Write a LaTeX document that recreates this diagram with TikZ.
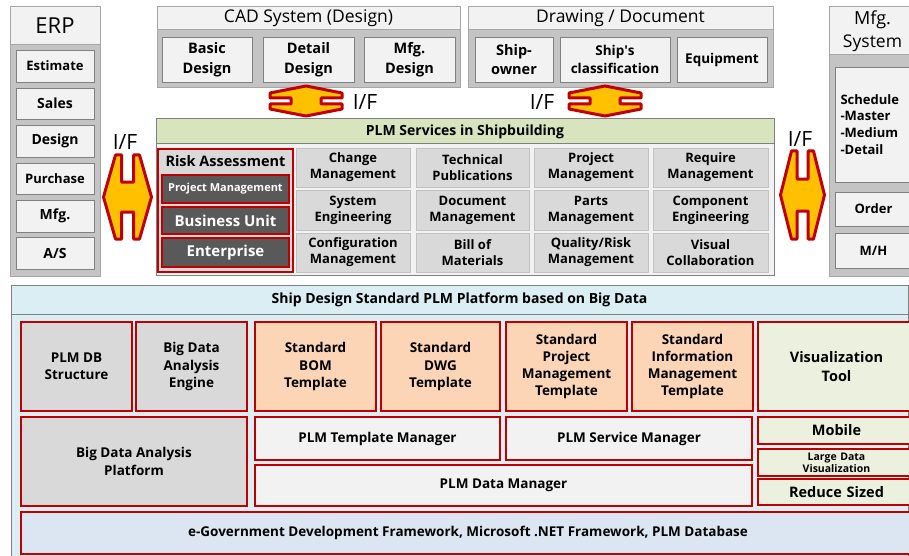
\documentclass[tikz,border=0pt]{standalone}
\usepackage{fontspec}
\setmainfont{Open Sans}
\definecolor{lgray}{HTML}{F2F2F2}
\definecolor{mgray}{HTML}{C4C4C4}
\definecolor{bgray}{HTML}{A6A6A6}
\definecolor{cellg}{HTML}{D9D9D9}
\definecolor{darkc}{HTML}{595959}
\definecolor{redc}{HTML}{C00000}
\definecolor{orangec}{HTML}{FFC000}
\definecolor{greenh}{HTML}{D7E4BD}
\definecolor{peach}{HTML}{FBD5B5}
\definecolor{lgreen}{HTML}{EBF1DE}
\definecolor{lblue}{HTML}{DAEEF3}
\definecolor{egov}{HTML}{DCE6F2}
\newcommand\bx[7]{%
 \pgfmathsetmacro\bxw{#5-#3}\pgfmathsetmacro\bxh{#6-#4}%
 \pgfmathsetmacro\bxx{(#3+#5)/2}\pgfmathsetmacro\bxy{(#4+#6)/2}%
 \node[#1, minimum width=\bxw pt, minimum height=\bxh pt] (#2) at (\bxx,\bxy) {#7};}
\newcommand\fsl[2]{\pgfmathsetmacro\fsb{#2*#1}\fontsize{#2pt}{\fsb pt}\selectfont}
\newcommand\fs[1]{\fsl{1.3}{#1}}
\begin{document}
\begin{tikzpicture}[x=1pt,y=-1pt,
  every node/.style={inner sep=0pt, outer sep=0pt, align=center, font=\bfseries\fs{13}},
  grpbody/.style={fill=mgray, draw=bgray, line width=1},
  grphead/.style={fill=lgray, draw=bgray, line width=1, font=\fs{17.5}},
  gitem/.style={fill=lgray, draw=gray, line width=0.8},
  cell/.style={fill=cellg, draw=bgray!70, line width=0.8, font=\bfseries\fsl{1.22}{13}},
  redgrp/.style={fill=cellg, draw=redc, line width=2.2},
  darkb/.style={fill=darkc, draw=redc, line width=1.8, text=white, font=\bfseries\fs{14}},
  rbox/.style={draw=redc, line width=2.4, font=\bfseries\fsl{1.28}{13.5}},
  ifarrow/.style={fill=orangec, draw=redc, line width=3, line join=round},
  iftext/.style={font=\fs{21}},
]
\useasboundingbox (0,0) rectangle (909,556);
\fill[white] (0,0) rectangle (909,556);

% ERP
\bx{grpbody}{erpbody}{10}{7}{100}{276}{}
\bx{grphead}{erphead}{10}{7}{100}{45}{\fs{22}ERP}
\bx{gitem}{est}{16}{50}{94}{82}{Estimate}
\bx{gitem}{sales}{16}{88}{94}{119}{\fs{14}Sales}
\bx{gitem}{design}{16}{125}{94}{157}{\fs{14}Design}
\bx{gitem}{purch}{16}{163}{94}{194}{Purchase}
\bx{gitem}{mfg}{16}{200}{94}{232}{\fs{14}Mfg.}
\bx{gitem}{as}{16}{237}{94}{269}{\fs{14}A/S}

% CAD System
\bx{grpbody}{cadbody}{157}{7}{460}{88}{}
\bx{grphead}{cadhead}{157}{7}{460}{30}{CAD System (Design)}
\bx{gitem, font=\bfseries\fsl{1.35}{14.5}}{basic}{162}{37}{252}{82}{Basic\\Design}
\bx{gitem, font=\bfseries\fsl{1.35}{14.5}}{detail}{263}{37}{354}{82}{Detail\\Design}
\bx{gitem, font=\bfseries\fsl{1.35}{14.5}}{mfgd}{364}{37}{455}{82}{Mfg.\\Design}

% Drawing / Document
\bx{grpbody}{drwbody}{468}{7}{773}{88}{}
\bx{grphead}{drwhead}{468}{7}{773}{30}{Drawing / Document}
\bx{gitem, font=\bfseries\fsl{1.35}{14.5}}{owner}{475}{37}{553}{82}{Ship-\\owner}
\bx{gitem, font=\bfseries\fsl{1.3}{13.5}}{class}{560}{37}{670}{82}{Ship\textquotesingle s\\classification}
\bx{gitem, font=\bfseries\fs{13.5}}{equip}{677}{37}{767}{82}{Equipment}

% Mfg System
\bx{grpbody}{mfsbody}{829}{7}{916}{276}{}
\bx{grphead}{mfshead}{829}{7}{916}{55}{\fsl{1.2}{18}Mfg.\\System}
\bx{gitem, text width=66pt, align=left}{sched}{835}{67}{912}{182}{Schedule\\-Master\\-Medium\\-Detail}
\bx{gitem}{order}{835}{192}{912}{226}{Order}
\bx{gitem}{mh}{835}{233}{912}{268}{M/H}

% PLM Services
\bx{fill=lgray, draw=gray, line width=1}{plmbody}{156}{119}{774}{275}{}
\bx{fill=greenh, draw=gray, line width=1, font=\bfseries\fs{14}}{plmhead}{156}{119}{774}{144}{PLM Services in Shipbuilding}
\bx{redgrp}{rgrp}{158}{149}{293}{272}{}
\node[font=\bfseries\fs{14.5}] (risk) at (225.5,161.5) {Risk Assessment};
\bx{darkb, font=\bfseries\fs{11}}{pm}{162}{175}{289}{203}{Project Management}
\bx{darkb, font=\bfseries\fs{15}}{bu}{162}{207}{289}{234}{Business Unit}
\bx{darkb, font=\bfseries\fs{15}}{ent}{162}{238}{289}{267}{Enterprise}

\bx{cell}{c11}{296}{148}{410}{187}{Change\\Management}
\bx{cell}{c12}{416}{148}{529}{187}{Technical\\Publications}
\bx{cell}{c13}{534}{148}{648}{187}{Project\\Management}
\bx{cell}{c14}{653}{148}{768}{187}{Require\\Management}
\bx{cell}{c21}{296}{190}{410}{230}{System\\Engineering}
\bx{cell}{c22}{416}{190}{529}{230}{Document\\Management}
\bx{cell}{c23}{534}{190}{648}{230}{Parts\\Management}
\bx{cell}{c24}{653}{190}{768}{230}{Component\\Engineering}
\bx{cell}{c31}{296}{233}{410}{272}{Configuration\\Management}
\bx{cell}{c32}{416}{233}{529}{272}{Bill of\\Materials}
\bx{cell}{c33}{534}{233}{648}{272}{Quality/Risk\\Management}
\bx{cell}{c34}{653}{233}{768}{272}{Visual\\Collaboration}

% I/F arrows
\draw[ifarrow, shift={(127.5,197)}] (-12,-42) -- (-6,-42) -- (-6,-15) -- (6,-15) -- (6,-42) -- (12,-42) -- (24,0) -- (12,42) -- (6,42) -- (6,15) -- (-6,15) -- (-6,42) -- (-12,42) -- (-24,0) -- cycle;
\draw[ifarrow, shift={(802.5,195)}] (-11,-44) -- (-5.5,-44) -- (-5.5,-16) -- (5.5,-16) -- (5.5,-44) -- (11,-44) -- (22,0) -- (11,44) -- (5.5,44) -- (5.5,16) -- (-5.5,16) -- (-5.5,44) -- (-11,44) -- (-22,0) -- cycle;
\draw[ifarrow, shift={(306,101)}] (-36,-8) -- (-36,-3) -- (-15,-3) -- (-15,3) -- (-36,3) -- (-36,8) -- (0,15) -- (36,8) -- (36,3) -- (15,3) -- (15,-3) -- (36,-3) -- (36,-8) -- (0,-15) -- cycle;
\draw[ifarrow, shift={(605,101)}] (-36,-8) -- (-36,-3) -- (-15,-3) -- (-15,3) -- (-36,3) -- (-36,8) -- (0,15) -- (36,8) -- (36,3) -- (15,3) -- (15,-3) -- (36,-3) -- (36,-8) -- (0,-15) -- cycle;
\node[iftext] (if1) at (125,142) {I/F};
\node[iftext] (if2) at (800,139) {I/F};
\node[iftext] (if3) at (365,102) {I/F};
\node[iftext] (if4) at (542,102) {I/F};

% Bottom platform
\bx{fill=lblue, draw=gray, line width=1}{platbody}{11}{285}{908}{560}{}
\bx{fill=lblue, draw=gray, line width=1, font=\bfseries\fs{14}}{plathead}{11}{285}{908}{314}{Ship Design Standard PLM Platform based on Big Data}

\bx{rbox, fill=cellg}{dbs}{21}{322}{132}{411}{PLM DB\\Structure}
\bx{rbox, fill=cellg}{bde}{136}{322}{247}{411}{Big Data\\Analysis\\Engine}
\bx{rbox, fill=peach}{bom}{255}{322}{376}{411}{Standard\\BOM\\Template}
\bx{rbox, fill=peach}{dwg}{381}{322}{500}{411}{Standard\\DWG\\Template}
\bx{rbox, fill=peach}{spm}{506}{322}{627}{411}{Standard\\Project\\Management\\Template}
\bx{rbox, fill=peach}{sim}{632}{322}{753}{411}{Standard\\Information\\Management\\Template}
\bx{rbox, fill=lgreen, text width=150pt, font=\bfseries\fsl{1.28}{14.5}}{vis}{758}{322}{915}{411}{Visualization\\Tool}

\bx{rbox, fill=cellg}{bdp}{21}{417}{247}{506}{Big Data Analysis\\Platform}
\bx{rbox, fill=lgray}{ptm}{255}{417}{500}{460}{PLM Template Manager}
\bx{rbox, fill=lgray}{psm}{506}{417}{752}{460}{PLM Service Manager}
\bx{rbox, fill=lgray}{pdm}{255}{465}{752}{506}{PLM Data Manager}
\bx{rbox, fill=lgreen, text width=150pt, font=\bfseries\fs{14.5}}{mob}{758}{417}{915}{444}{Mobile}
\bx{rbox, fill=lgreen, text width=150pt, font=\bfseries\fsl{1.15}{10.5}}{ldv}{758}{449}{915}{476}{Large Data\\Visualization}
\bx{rbox, fill=lgreen, text width=150pt, font=\bfseries\fs{14.5}}{red}{758}{479}{915}{505}{Reduce Sized}
\bx{rbox, fill=egov}{egv}{21}{512}{915}{554}{e-Government Development Framework, Microsoft .NET Framework, PLM Database}
\end{tikzpicture}
\end{document}
